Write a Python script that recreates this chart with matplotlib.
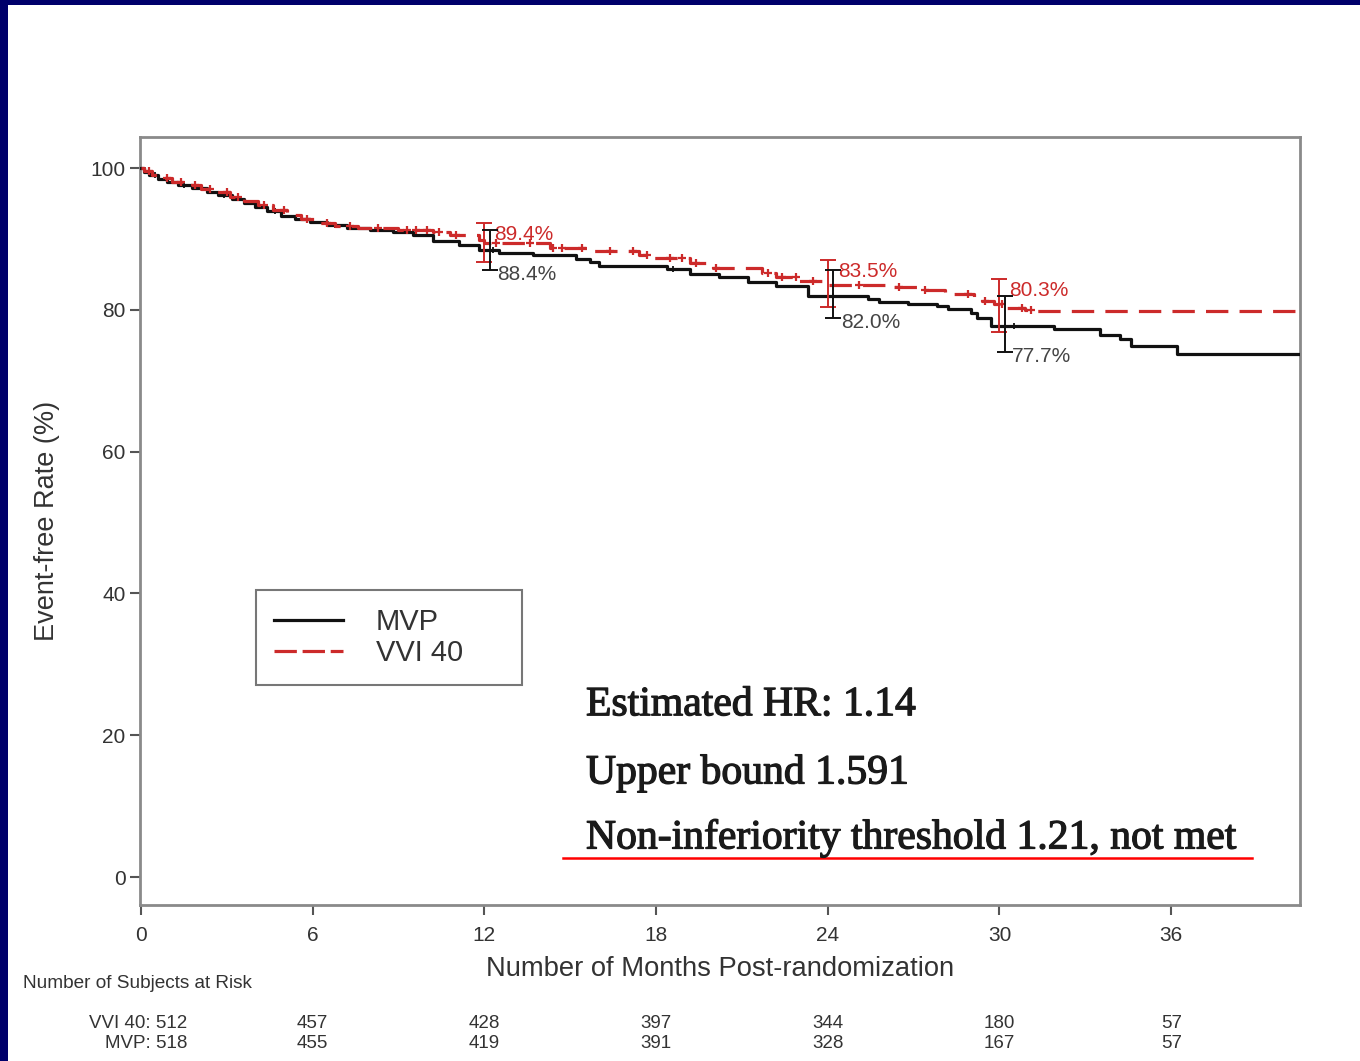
import numpy as np
import matplotlib
matplotlib.use("Agg")
import matplotlib.pyplot as plt
import matplotlib.patheffects as pe
from matplotlib.patches import Rectangle
from matplotlib.lines import Line2D

plt.rcParams['font.family'] = ['Liberation Sans', 'DejaVu Sans']

# ---------------- data ----------------
mvp_t = [0, 0.1, 0.3, 0.6, 0.9, 1.3, 1.8, 2.3, 2.7, 3.2, 3.6, 4.0, 4.4, 4.9, 5.4, 5.9, 6.5, 7.2,
         8.0, 8.8, 9.5, 10.2, 11.1, 11.8, 12.5, 13.7, 15.2, 15.7, 16.0, 18.4, 19.2, 20.2, 21.2,
         22.2, 23.3, 25.4, 25.8, 26.8, 27.8, 28.2, 29.0, 29.2, 29.7, 31.9, 33.5, 34.2, 34.6, 36.2, 40.5]
mvp_s = [100, 99.5, 99.0, 98.5, 98.0, 97.6, 97.2, 96.7, 96.2, 95.6, 95.1, 94.5, 93.9, 93.3, 92.8,
         92.4, 92.0, 91.6, 91.3, 91.0, 90.6, 89.7, 89.2, 88.4, 88.1, 87.7, 87.2, 86.7, 86.2, 85.8,
         85.1, 84.6, 84.0, 83.4, 82.0, 81.6, 81.1, 80.9, 80.6, 80.2, 79.6, 78.9, 77.7, 77.3, 76.4,
         75.9, 74.9, 73.8, 73.8]

vvi_t = [0, 0.1, 0.4, 0.7, 1.1, 1.6, 2.1, 2.6, 3.1, 3.6, 4.1, 4.6, 5.1, 5.6, 6.2, 6.8, 7.6, 9.0,
         10.2, 10.8, 11.8, 12.0, 14.3, 15.6, 17.4, 17.9, 19.2, 20.0, 21.7, 22.2, 23.0, 23.8, 26.3,
         27.3, 28.1, 29.1, 29.4, 29.8, 30.2, 30.9, 31.2, 40.5]
vvi_s = [100, 99.6, 99.1, 98.6, 98.1, 97.6, 97.1, 96.6, 96.0, 95.4, 94.8, 94.1, 93.4, 92.8, 92.3,
         91.9, 91.6, 91.3, 91.0, 90.6, 89.9, 89.4, 88.8, 88.3, 87.8, 87.3, 86.6, 85.9, 85.2, 84.7,
         84.1, 83.5, 83.2, 82.8, 82.3, 81.8, 81.3, 80.8, 80.3, 80.0, 79.8, 79.8]

vvi_censor = [0.3, 0.9, 1.4, 1.9, 2.4, 3.0, 3.4, 4.3, 5.0, 5.8, 6.5, 7.3, 8.3, 9.3, 9.6, 10.0,
              10.4, 11.0, 12.4, 13.6, 14.4, 14.7, 15.4, 16.4, 17.2, 17.7, 18.5, 18.9, 19.4, 20.1,
              21.9, 22.4, 22.9, 23.5, 25.1, 26.5, 27.4, 28.9, 29.5, 30.1, 30.8, 31.1]
mvp_censor = [0.5, 1.5, 2.9, 4.7, 6.8, 12.3, 18.6, 24.2, 30.5]

ci_times = [12, 24, 30]
vvi_est = [89.4, 83.5, 80.3]
vvi_lo = [86.8, 80.4, 76.9]
vvi_hi = [92.3, 87.0, 84.4]
mvp_est = [88.4, 82.0, 77.7]
mvp_lo = [85.6, 78.8, 74.1]
mvp_hi = [91.3, 85.6, 81.9]

risk_months = [0, 6, 12, 18, 24, 30, 36]
risk_vvi = [512, 457, 428, 397, 344, 180, 57]
risk_mvp = [518, 455, 419, 391, 328, 167, 57]

xticks = [0, 6, 12, 18, 24, 30, 36]
yticks = [0, 20, 40, 60, 80, 100]

stats_lines = ["Estimated HR: 1.14", "Upper bound 1.591", "Non-inferiority threshold 1.21, not met"]

# ---------------- figure ----------------
W, H = 1360, 1061
fig = plt.figure(figsize=(W / 100, H / 100), dpi=100)
fig.patch.set_facecolor('#00006b')
fig.patches.append(Rectangle((8 / W, 0), 1 - 8 / W, 1 - 5 / H, transform=fig.transFigure,
                             facecolor='white', edgecolor='none', zorder=-10))

ax = fig.add_axes([140 / W, 1 - 905 / H, (1300 - 140) / W, (905 - 137) / H])
ax.set_xlim(-0.03, 40.5)
ax.set_ylim(-3.95, 104.4)

RED = '#cc2a2a'
BLK = '#111111'
GRY = '#444444'

ax.step(mvp_t, mvp_s, where='post', color=BLK, lw=2.3, zorder=3)
ax.step(vvi_t, vvi_s, where='post', color=RED, lw=2.3, dashes=(7, 3.5), zorder=4)


def step_at(ts, ss, x):
    i = np.searchsorted(ts, x, side='right') - 1
    return np.asarray(ss)[i]


vc = np.array(vvi_censor)
ax.plot(vc, step_at(vvi_t, vvi_s, vc), ls='none', marker='+', ms=6, mew=1.6, color=RED, zorder=5)
mc = np.array(mvp_censor)
ax.plot(mc, step_at(mvp_t, mvp_s, mc), ls='none', marker='+', ms=5, mew=1.3, color=BLK, zorder=3)

# confidence intervals
ct = np.array(ci_times, dtype=float)
ax.errorbar(ct, vvi_est, yerr=[np.array(vvi_est) - vvi_lo, np.array(vvi_hi) - vvi_est],
            fmt='none', ecolor=RED, elinewidth=1.4, capsize=6, capthick=1.4, zorder=6)
ax.errorbar(ct + 0.2, mvp_est, yerr=[np.array(mvp_est) - mvp_lo, np.array(mvp_hi) - mvp_est],
            fmt='none', ecolor=BLK, elinewidth=1.4, capsize=6, capthick=1.4, zorder=6)
for t, v, hi in zip(ci_times, vvi_est, vvi_hi):
    ax.text(t + 0.35, hi - 1.6, f"{v:.1f}%", color=RED, fontsize=15, ha='left', va='center')
for t, v, lo in zip(ci_times, mvp_est, mvp_lo):
    ax.text(t + 0.45, lo - 0.6, f"{v:.1f}%", color=GRY, fontsize=15, ha='left', va='center')

# axes styling
for sp in ax.spines.values():
    sp.set_color('#8a8a8a')
    sp.set_linewidth(2.0)
ax.set_xticks(xticks)
ax.set_yticks(yticks)
ax.tick_params(axis='both', direction='out', length=7, width=1.5, color='#555555',
               labelsize=15, labelcolor='#333333')
ax.tick_params(axis='x', pad=8)
ax.set_xlabel("Number of Months Post-randomization", fontsize=19.7, color='#333333', labelpad=8)
ax.set_ylabel("Event-free Rate (%)", fontsize=19.5, color='#333333', labelpad=22)

# legend
handles = [Line2D([], [], color=BLK, lw=2.3),
           Line2D([], [], color=RED, lw=2.3, dashes=(7, 1.8))]
x0 = (256 - 140) / 1160
y1 = (905 - 590) / 768
wl = (522 - 256) / 1160
hl = (685 - 590) / 768
leg = ax.legend(handles, ["MVP", "VVI 40"], loc='upper left',
                bbox_to_anchor=(x0, y1 - hl, wl, hl), mode='expand',
                fontsize=21, frameon=True, fancybox=False, shadow=False,
                handlelength=2.35, handletextpad=1.14, borderpad=0.62, labelspacing=0.1,
                borderaxespad=0)
leg.get_frame().set_edgecolor('#555555')
leg.get_frame().set_linewidth(1.5)
for t in leg.get_texts():
    t.set_color('#333333')

# statistics text
ys = [705, 773, 838]
for s, y in zip(stats_lines, ys):
    fig.text(586 / W, 1 - y / H, s, fontsize=30, family='Liberation Serif',
             color='#1a1a1a', ha='left', va='center',
             path_effects=[pe.withStroke(linewidth=0.9, foreground='#1a1a1a')])
fig.add_artist(Line2D([563 / W, 1252 / W], [1 - 858 / H, 1 - 858 / H], color='red', lw=1.8,
                      transform=fig.transFigure))

# risk table
fs_r = 13.5
fig.text(23 / W, 1 - 983 / H, "Number of Subjects at Risk", fontsize=13.7, color='#333333',
         ha='left', va='center')
fig.text(187 / W, 1 - 1024 / H, f"VVI 40: {risk_vvi[0]}", fontsize=fs_r, color='#333333',
         ha='right', va='center')
fig.text(187 / W, 1 - 1044 / H, f"MVP: {risk_mvp[0]}", fontsize=fs_r, color='#333333',
         ha='right', va='center')
trans = matplotlib.transforms.blended_transform_factory(ax.transData, fig.transFigure)
for m, a, b in zip(risk_months[1:], risk_vvi[1:], risk_mvp[1:]):
    fig.text(m, 1 - 1024 / H, str(a), fontsize=fs_r, color='#333333', ha='center', va='center',
             transform=trans)
    fig.text(m, 1 - 1044 / H, str(b), fontsize=fs_r, color='#333333', ha='center', va='center',
             transform=trans)

fig.savefig("out.png", dpi=100, facecolor=fig.get_facecolor())
